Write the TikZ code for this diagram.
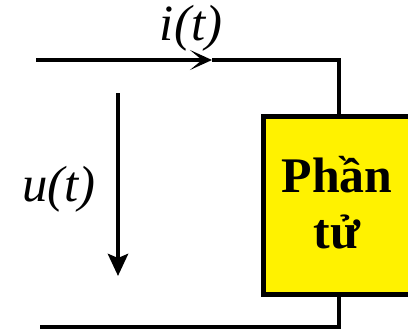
\documentclass[tikz,border=0pt]{standalone}
\usepackage{fontspec}
\setmainfont{Liberation Serif}
\usetikzlibrary{arrows.meta}
\begin{document}
\begin{tikzpicture}[x=1bp,y=-1bp,line width=4.5bp,
	elem/.style={draw,line width=5bp,fill=yellow,minimum width=150bp,minimum height=178bp,align=center,font=\bfseries\fontsize{50}{56}\selectfont},
	lbl/.style={font=\itshape\fontsize{51}{54}\selectfont}]
	\useasboundingbox (0,0) rectangle (408,334);
	\node[elem] (phantu) at (339,205) {};
	\node[font=\bfseries\fontsize{50}{56}\selectfont,align=center] (ten) at (337,203) {Phần\\tử};
	\coordinate (tl) at (36,60);
	\coordinate (tm) at (212,60);
	\coordinate (tr) at (339,60);
	\coordinate (bl) at (40,327);
	\coordinate (br) at (339,327);
	\coordinate (ua) at (118,93);
	\coordinate (ub) at (118,276);
	\draw[-{Stealth[length=22bp,width=20bp,inset=12bp]}] (tl)--(tm);
	\draw (tm)--(tr)--(phantu.north);
	\draw (bl)--(br)--(phantu.south);
	\draw[-{Stealth[length=22bp,width=20bp,inset=4bp]}] (ua)--(ub);
	\node[lbl,inner sep=0pt] (it) at (191,28) {i(t)};
	\node[lbl] (ut) at (59,189) {u(t)};
\end{tikzpicture}
\end{document}
